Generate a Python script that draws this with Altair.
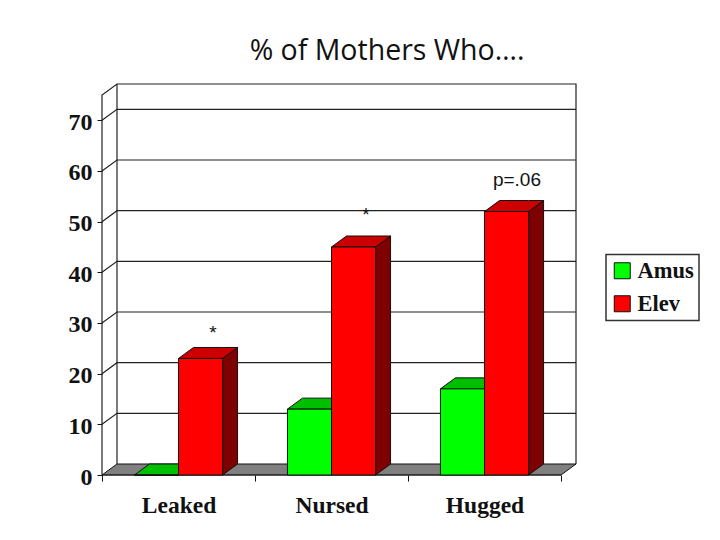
import altair as alt
import pandas as pd

categories = ["Leaked", "Nursed", "Hugged"]
series = ["Amus", "Elev"]
amus_values = [0, 13, 17]
elev_values = [23, 45, 52]
y_ticks = [0, 10, 20, 30, 40, 50, 60, 70]
notes = ["*", "*", "p=.06"]
note_groups = [0.725, 1.725, 2.712]
note_levels = [28, 51.4, 58.2]

DX, DY = 0.098, 2.17       # depth of the pseudo-3D box, in data units
BAR = 0.288
WALL = 75
X_MAX, Y_MAX = 3 + DX, WALL + DY
n = len(categories)

x_scale = alt.Scale(domain=[0, X_MAX], nice=False, zero=False)
y_scale = alt.Scale(domain=[0, Y_MAX], nice=False, zero=False)
EDGE = "#111111"

label_expr = "[" + ",".join(f"'{c}'" for c in categories) + ",''][datum.value]"
serif = "Liberation Serif"

X = alt.X("x:Q", scale=x_scale, title=None, axis=alt.Axis(
    values=list(range(n + 1)), domain=False, grid=False, tickSize=6,
    tickColor="#111111", labelExpr=label_expr, labelOffset=76.5,
    labelFont=serif, labelFontWeight="bold", labelFontSize=23.5,
    labelColor="#111111", labelPadding=12, labelOverlap=False,
    labelFlush=False, labelBound=False))
Y = alt.Y("y:Q", scale=y_scale, title=None, stack=None, axis=alt.Axis(
    values=y_ticks, domain=False, grid=False, tickSize=5,
    tickColor="#111111", labelFont=serif, labelFontWeight="bold",
    labelFontSize=24, labelColor="#111111", labelPadding=5, labelOffset=2,
    labelOverlap=False, labelFlush=False, labelBound=False))
Y2 = alt.Y2("y2:Q")

# floor
floor = pd.DataFrame([
    {"x": 0, "y": 0, "y2": 0},
    {"x": DX, "y": 0, "y2": DY},
    {"x": n, "y": 0, "y2": DY},
    {"x": n + DX, "y": DY, "y2": DY},
])
floor_layer = alt.Chart(floor).mark_area(
    color="#808080", stroke=EDGE, strokeWidth=1, line=False
).encode(x=X, y=Y, y2=Y2)

# wall outlines and gridlines
rows = []
for v in y_ticks[1:]:
    for x, y in [(0, v), (DX, v + DY), (n + DX, v + DY)]:
        rows.append({"x": x, "y": y, "g": f"grid{v}"})
for x, y in [(0, 0), (0, WALL), (DX, WALL + DY), (n + DX, WALL + DY), (n + DX, DY)]:
    rows.append({"x": x, "y": y, "g": "outline1"})
for x, y in [(DX, DY), (DX, WALL + DY)]:
    rows.append({"x": x, "y": y, "g": "outline2"})
for x, y in [(0, 0), (n, 0)]:
    rows.append({"x": x, "y": y, "g": "baseline"})
lines = pd.DataFrame(rows)
lines["o"] = range(len(lines))
line_layer = alt.Chart(lines).mark_line(color="#222222", strokeWidth=1.2).encode(
    x=X, y=Y, detail="g:N", order="o:Q"
)

amus_side, elev_side, amus_top, elev_top, fronts = [], [], [], [], []
for i in range(n):
    for name, vals, left, side, top in [
        (series[0], amus_values, i + 0.5 - BAR, amus_side, amus_top),
        (series[1], elev_values, i + 0.5, elev_side, elev_top),
    ]:
        v = vals[i]
        right = left + BAR
        fronts.append({"x": left, "x2": right, "y": v, "y2": 0, "series": name})
        side += [
            {"x": right, "y": v, "y2": 0, "g": i},
            {"x": right + DX, "y": v + DY, "y2": DY, "g": i},
        ]
        top += [
            {"x": left, "y": v, "y2": v, "g": i},
            {"x": left + DX, "y": v, "y2": v + DY, "g": i},
            {"x": right, "y": v, "y2": v + DY, "g": i},
            {"x": right + DX, "y": v + DY, "y2": v + DY, "g": i},
        ]
fronts = pd.DataFrame(fronts)


def face(rows_, colour):
    return alt.Chart(pd.DataFrame(rows_)).mark_area(
        color=colour, stroke=EDGE, strokeWidth=1, line=False
    ).encode(x=X, y=Y, y2=Y2, detail="g:N")


def front(name):
    return alt.Chart(fronts[fronts["series"] == name]).mark_rect(
        stroke=EDGE, strokeWidth=1
    ).encode(
        x=X, x2="x2:Q", y=Y, y2=Y2,
        color=alt.Color("series:N", title=None,
            scale=alt.Scale(domain=series, range=["#00ff00", "#ff0000"]),
            legend=alt.Legend(
                orient="none", legendX=504, legendY=170.5, padding=5,
                strokeColor="#333333", fillColor="white",
                symbolType="square", symbolSize=256, symbolStrokeColor="#111111",
                symbolStrokeWidth=1, labelFont=serif, labelFontWeight="bold",
                labelFontSize=22.5, labelColor="#111111", labelOffset=4,
                rowPadding=10, symbolOpacity=1, labelLimit=200)),
    )


note_df = pd.DataFrame({"x": note_groups, "y": note_levels, "t": notes})
note_layer = alt.Chart(note_df).mark_text(
    font="Liberation Sans", fontSize=19, color="#111111"
).encode(x=X, y=Y, text="t:N")

chart = alt.layer(
    floor_layer, line_layer,
    face(amus_side, "#008000"), face(amus_top, "#00bf00"), front(series[0]),
    face(elev_side, "#7f0000"), face(elev_top, "#cc0000"), front(series[1]),
    note_layer,
).properties(
    width=474, height=391, background="white",
    title=alt.TitleParams("% of Mothers Who….", font="Open Sans", fontSize=28.5,
        fontWeight="normal", color="#111111", anchor="middle", dx=48, offset=16),
    padding={"left": 94, "top": 76, "right": 136, "bottom": 57},
    autosize=alt.AutoSizeParams(type="none"),
).configure_view(stroke=None).configure_legend(strokeWidth=1.5)

chart.save("out.html", embed_options={"renderer": "svg", "actions": False})
